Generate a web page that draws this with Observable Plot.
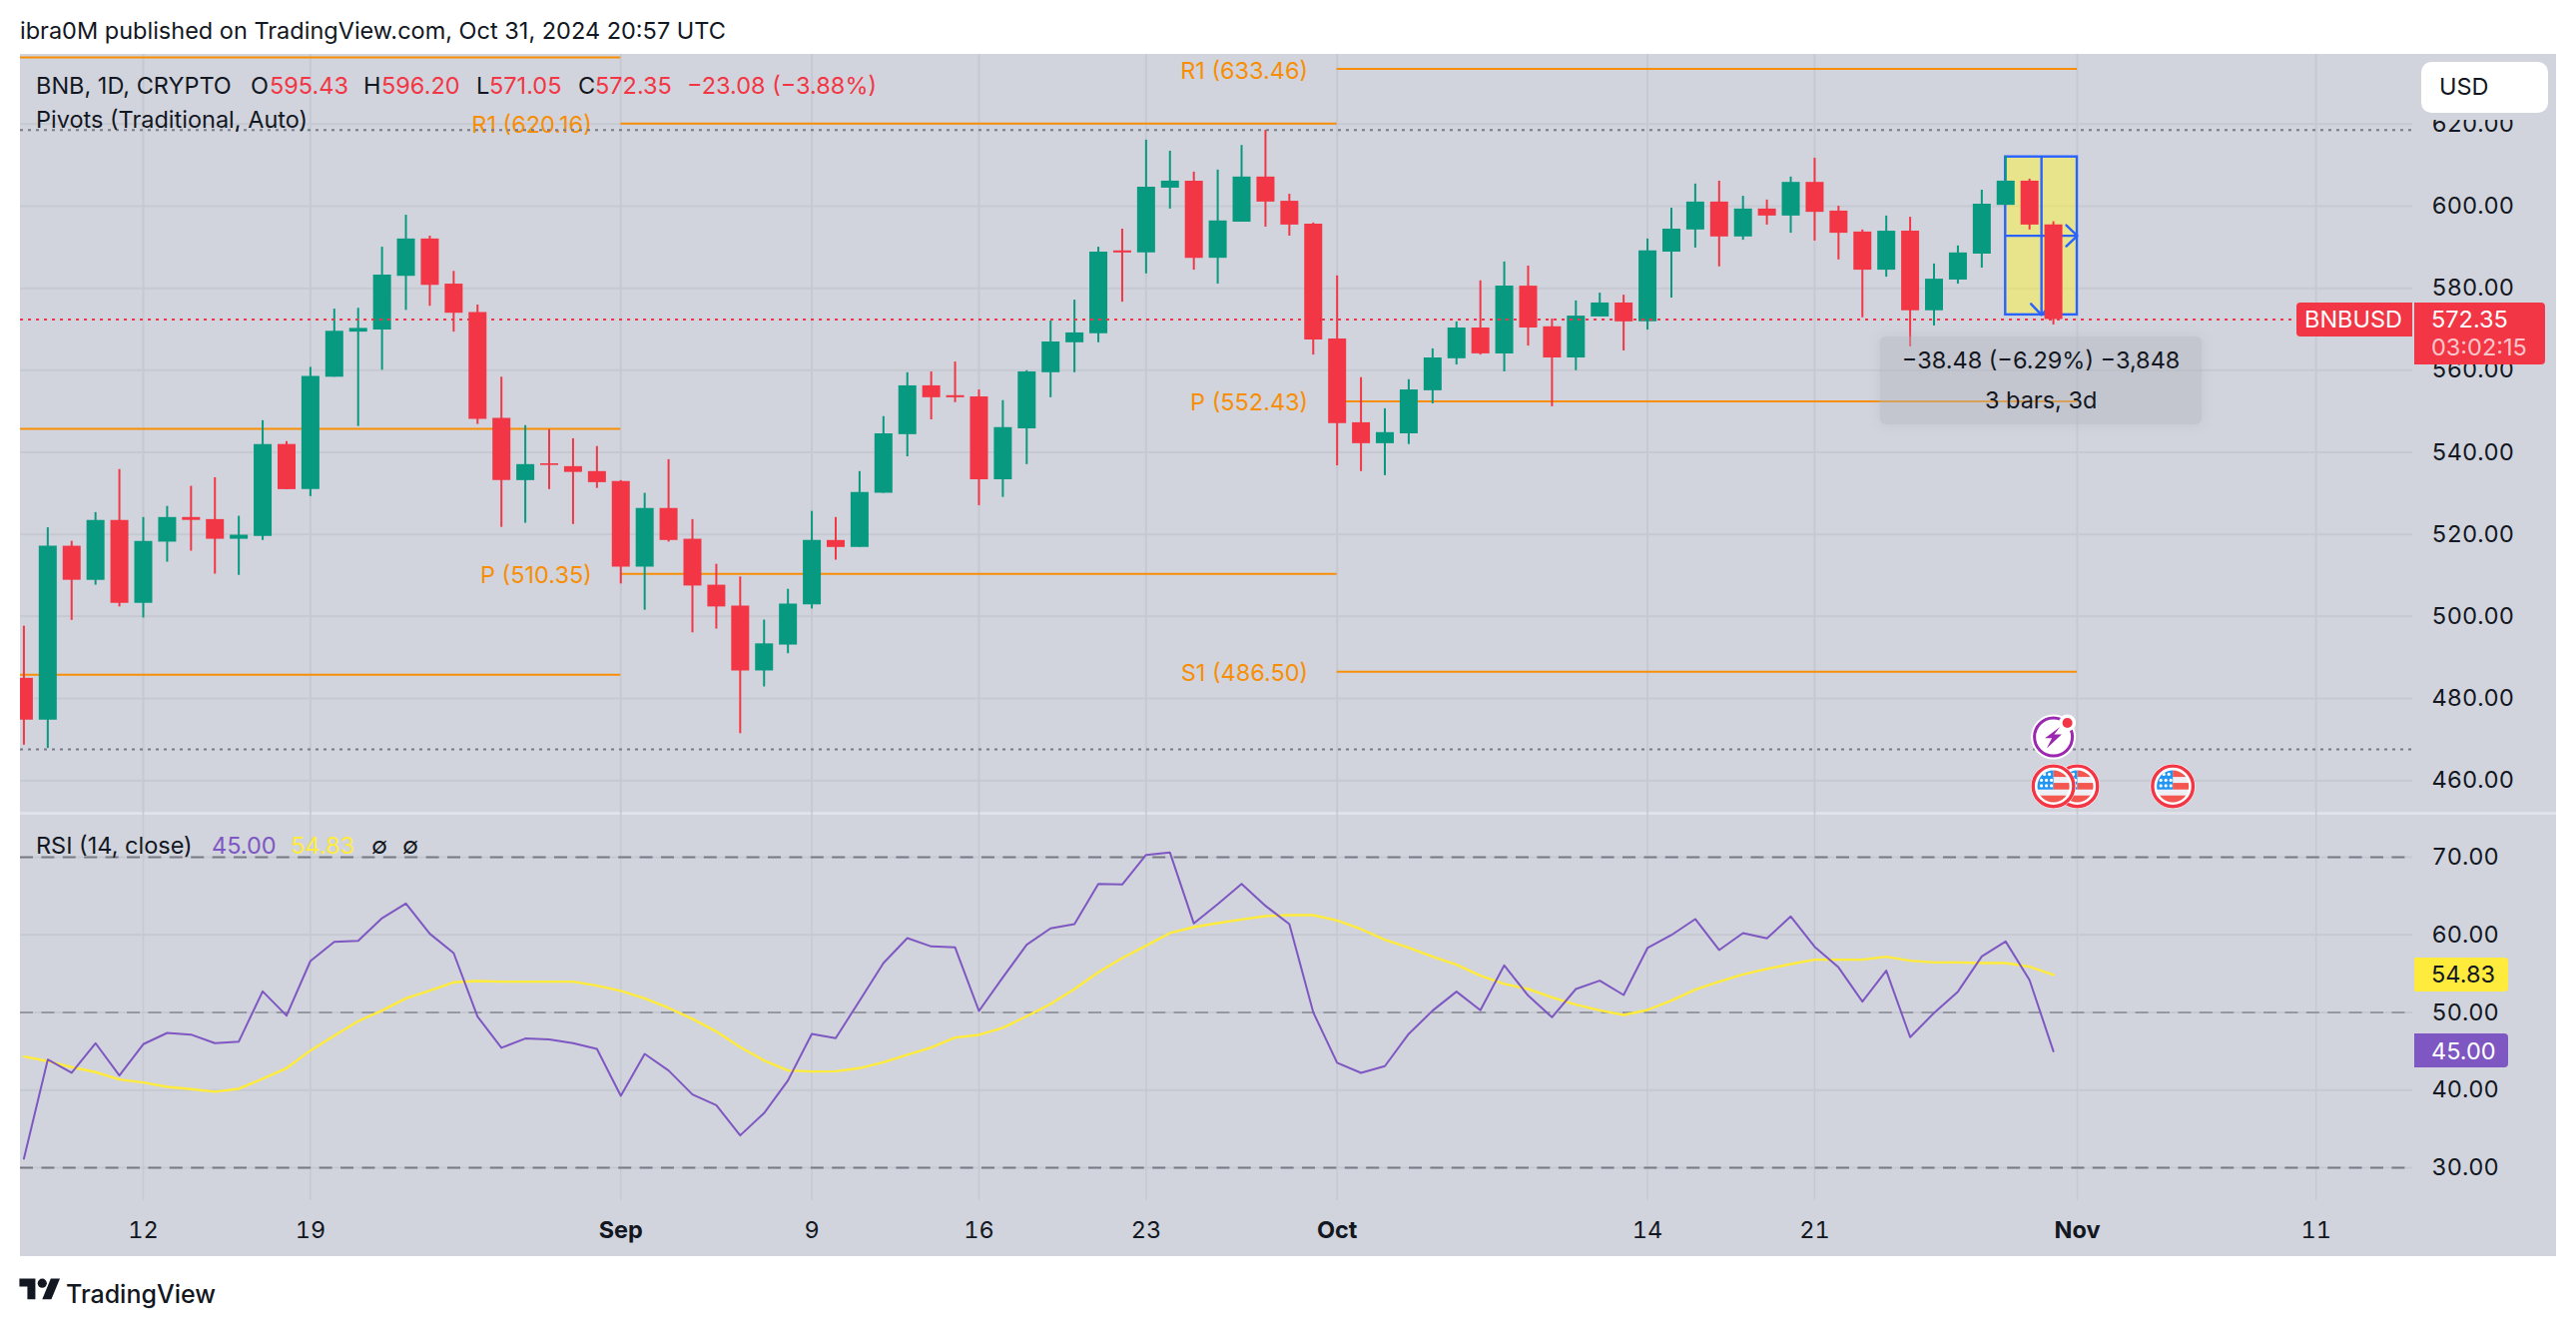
<!DOCTYPE html>
<html>
<head>
<meta charset="utf-8">
<script src="https://cdn.jsdelivr.net/npm/d3@7"></script>
<script src="https://cdn.jsdelivr.net/npm/@observablehq/plot@0.6"></script>
<style>
html,body{margin:0;padding:0;background:#fff}
#page{position:relative;width:2580px;height:1328px;overflow:hidden;background:#fff;font-family:Inter,"Noto Sans",sans-serif;color:#131722}
#panel{position:absolute;left:20px;top:54px;width:2540px;height:1204px;background:#d1d4dc}
#sep{position:absolute;left:20px;top:813px;width:2540px;height:3px;background:#dfe2ea}
.t{position:absolute;white-space:pre;line-height:1;font-size:23.5px}
svg{position:absolute;left:0}
.badge{position:absolute;color:#fff;font-size:24px;line-height:1}
</style>
</head>
<body>
<div id="page">
<div id="panel"></div>
<div id="sep"></div>
</div>
<script>
// ---- OHLC, one bar per day from 7 Aug 2024 to 31 Oct 2024
const firstDay = "2024-08-07";
const opens = [484.9,474.7,517.1,508.8,523.4,503.2,518.1,524.1,523.6,518.8,519.5,541.9,530.9,558.3,569.3,569.8,582.9,592.0,581.0,574.1,548.3,533.1,537.2,536.5,535.3,532.9,512.0,526.3,518.8,507.6,502.5,486.7,493.0,502.8,518.5,516.8,530.0,544.3,556.2,553.8,553.5,533.3,545.7,559.4,566.7,568.9,589.1,588.6,604.4,606.1,587.3,596.1,607.1,601.2,595.6,567.6,547.2,542.1,544.5,555.0,562.8,570.3,564.0,580.5,570.6,563.0,573.0,576.4,571.8,588.8,594.2,601.0,592.5,599.3,597.6,605.8,598.8,593.7,584.4,593.9,574.5,582.0,588.3,600.2,606.1,595.43];
const highs = [497.6,521.6,518.3,525.3,535.8,524.1,526.8,531.7,533.8,524.4,547.7,542.6,560.7,574.9,575.1,590.0,597.8,592.7,584.1,575.9,558.3,546.5,545.5,543.3,541.4,533.1,530.0,538.2,523.6,512.7,509.6,499.1,506.6,525.6,524.1,535.3,548.7,559.4,559.6,562.0,555.2,552.6,559.9,572.0,577.1,590.0,594.4,616.1,613.4,608.3,608.8,614.8,618.5,602.9,595.9,583.0,558.2,550.6,557.7,565.2,571.8,581.8,586.4,585.4,572.5,576.9,578.8,578.3,592.0,599.5,605.4,606.1,602.4,601.5,607.1,611.7,600.0,594.2,597.6,597.3,585.9,590.3,603.9,612.2,606.6,596.20];
const lows = [468.6,467.8,499.0,507.6,502.3,499.6,513.2,515.9,510.3,510.0,518.5,530.9,529.2,558.3,546.3,560.0,574.6,575.6,569.3,546.8,521.7,522.7,530.9,522.4,531.2,507.9,501.5,518.1,496.0,496.9,471.4,482.8,490.9,501.8,513.7,516.8,530.0,538.9,547.9,552.1,527.0,529.0,537.0,553.3,559.4,566.7,576.6,583.5,599.3,584.4,581.0,596.1,594.9,592.7,563.7,536.7,535.3,534.3,541.9,551.8,561.3,563.7,559.6,565.9,551.1,559.9,573.0,564.7,569.8,577.6,589.8,585.2,591.7,595.4,593.4,591.5,586.9,572.8,582.7,565.7,570.8,581.0,584.9,600.2,594.2,571.05];
const closes = [474.7,517.1,508.8,523.4,503.2,518.3,524.1,523.4,518.8,519.8,541.9,530.9,558.5,569.5,570.2,583.2,592.0,580.7,573.9,548.0,533.1,537.0,536.8,535.1,532.6,512.0,526.3,518.5,507.4,502.3,486.7,493.3,503.0,518.5,516.8,530.2,544.5,556.2,553.3,553.3,533.3,546.0,559.6,566.9,569.1,588.8,588.6,604.6,606.1,587.3,596.4,607.1,601.0,595.4,567.4,547.0,542.1,544.8,555.2,563.0,570.3,564.0,580.5,570.3,563.0,573.2,576.4,571.8,589.1,594.4,601.0,592.5,599.3,597.6,605.8,598.5,593.4,584.4,593.9,574.5,582.2,588.6,600.5,606.1,595.4,572.35];
// ---- RSI (14) and its moving average, same days
const rsiValues = [31.16,43.93,42.22,46.04,41.88,45.91,47.36,47.15,46.04,46.25,52.72,49.59,56.62,59.11,59.24,62.15,64.04,60.14,57.65,49.47,45.44,46.64,46.51,46.04,45.31,39.26,44.66,42.52,39.43,38.06,34.16,37.03,41.23,47.24,46.68,51.52,56.37,59.58,58.51,58.38,50.19,54.52,58.73,60.83,61.38,66.57,66.48,70.30,70.60,61.47,63.96,66.57,63.74,61.38,50.02,43.51,42.22,43.08,47.24,50.24,52.68,50.28,56.07,52.17,49.38,53.02,54.10,52.25,58.30,59.97,62.03,58.04,60.23,59.54,62.37,58.47,55.81,51.39,55.38,46.81,49.94,52.68,57.22,59.15,54.18,45.00];
const rsiMa = [44.32,43.72,42.95,42.31,41.36,40.98,40.42,40.12,39.78,40.16,41.45,42.82,45.09,47.02,48.87,50.24,51.82,52.81,53.88,54.05,53.97,53.97,53.97,53.97,53.45,52.77,51.82,50.58,49.17,47.54,45.52,43.81,42.52,42.39,42.43,42.82,43.59,44.54,45.48,46.76,47.11,48.01,49.51,51.09,53.02,55.17,57.01,58.60,60.23,61.00,61.51,61.98,62.41,62.54,62.54,61.85,60.74,59.37,58.34,57.18,56.15,54.74,53.67,53.02,51.95,51.01,50.28,49.68,50.32,51.52,52.94,53.97,54.91,55.60,56.24,56.80,56.80,56.80,57.18,56.67,56.45,56.45,56.37,56.37,55.90,54.83];
// ---- pivots
const pivotStart = ["2024-08-01","2024-08-01","2024-08-01","2024-09-01","2024-09-01","2024-10-01","2024-10-01","2024-10-01"];
const pivotEnd = ["2024-09-01","2024-09-01","2024-09-01","2024-10-01","2024-10-01","2024-11-01","2024-11-01","2024-11-01"];
const pivotPrice = [636.3,545.7,485.8,620.16,510.35,633.46,552.43,486.50];
const pivotLabel = ["","","","R1 (620.16)","P (510.35)","R1 (633.46)","P (552.43)","S1 (486.50)"];
// ---- axes
const priceTicks = [460,480,500,520,540,560,580,600,620];
const rsiTicks = [30,40,50,60,70];
const rsiGuides = [70,30];
const timeTicks = ["2024-08-12","2024-08-19","2024-09-09","2024-09-16","2024-09-23","2024-10-14","2024-10-21","2024-11-11"];
const timeLabels = ["12","19","9","16","23","14","21","11"];
const monthTicks = ["2024-09-01","2024-10-01","2024-11-01"];
const monthLabels = ["Sep","Oct","Nov"];
const rangeHigh = 618.57, rangeLow = 467.6;
// ---- measuring tool
const measureDays = ["2024-10-29","2024-11-01"];
const measurePrices = [612.0,573.5];
const measureMid = {day:"2024-10-30T12:00Z", price:592.8};
// ---- events
const flagDays = ["2024-11-01","2024-11-05","2024-10-31"];
const boltDays = ["2024-10-31"];
const flagPrice = 458.6, boltPrice = 470.6;

const GREEN="#089981", RED="#f23645", ORANGE="#f88e06", GRID="#c6c9d1", GREY="#787b86", INK="#131722", BLUE="#2962ff";
const d = s => new Date(s.length===10 ? s+"T00:00:00Z" : s);
const days = d3.utcDay.range(d(firstDay), d3.utcDay.offset(d(firstDay), opens.length));
const bars = days.map((date,i)=>({date,open:opens[i],high:highs[i],low:lows[i],close:closes[i],rsi:rsiValues[i],ma:rsiMa[i]}));
const pivots = pivotPrice.map((price,i)=>({start:d(pivotStart[i]),end:d(pivotEnd[i]),price,label:pivotLabel[i]}));
const xDomain = [new Date("2024-08-06T20:34:00Z"), new Date("2024-11-15T01:12:00Z")];
const tickMap = new Map([...timeTicks.map((t,i)=>[+d(t),timeLabels[i]]), ...monthTicks.map((t,i)=>[+d(t),monthLabels[i]])]);
const allTicks = [...timeTicks,...monthTicks].map(d);
const fmt = t => tickMap.get(+t);
const barColor = b => b.close>=b.open ? GREEN : RED;
const FONT = "Inter, 'Noto Sans', sans-serif";

const svgURI = s => "data:image/svg+xml,"+encodeURIComponent(s);
const flagIcon = svgURI(`<svg xmlns="http://www.w3.org/2000/svg" viewBox="-24 -24 48 48"><defs><clipPath id="c"><circle r="16"/></clipPath></defs>
<circle r="22.5" fill="#fff"/><circle r="20.3" fill="none" stroke="#f23645" stroke-width="3.4"/>
<g clip-path="url(#c)"><rect x="-17" y="-17" width="34" height="34" fill="#eef0f6"/>
<rect x="0" y="-17" width="17" height="7.7" fill="#f4574f"/><rect x="0" y="-3.3" width="17" height="6.6" fill="#f4574f"/><rect x="-17" y="9.3" width="34" height="8" fill="#f4574f"/>
<rect x="-17" y="-17" width="17" height="20.3" fill="#2196f3"/>
<g fill="#fff"><circle cx="-9" cy="-12" r="1.6"/><circle cx="-4" cy="-12" r="1.6"/><circle cx="-12" cy="-6" r="1.6"/><circle cx="-7" cy="-6" r="1.6"/><circle cx="-2" cy="-6" r="1.6"/><circle cx="-12" cy="-.5" r="1.6"/><circle cx="-7" cy="-.5" r="1.6"/><circle cx="-2" cy="-.5" r="1.6"/></g></g></svg>`);
const boltIcon = svgURI(`<svg xmlns="http://www.w3.org/2000/svg" viewBox="-24 -24 48 48">
<circle r="22.5" fill="#fff"/><circle r="19" fill="none" stroke="#9c27b0" stroke-width="3"/>
<path d="M6.7-10L-8.5 1.2h7L-6.7 11.5 8.3-2.6H.8z" fill="#9c27b0"/>
<circle cx="14" cy="-14" r="8.5" fill="#fff"/><circle cx="14" cy="-14" r="5" fill="#f23645"/></svg>`);
const chevron = {draw(c){c.moveTo(-10.5,11);c.lineTo(0,0);c.lineTo(10.5,11);}};

const priceChart = Plot.plot({
  width:2580,height:760,marginLeft:20,marginRight:164,marginTop:0,marginBottom:0,
  style:{background:"transparent",fontFamily:FONT,fontSize:"23.5px",overflow:"visible",top:"54px"},
  x:{type:"utc",domain:xDomain,axis:null},
  y:{domain:[452,637]},
  color:{type:"identity"},
  marks:[
    Plot.gridY({ticks:priceTicks,stroke:GRID,strokeOpacity:1,strokeWidth:2}),
    Plot.gridX({ticks:allTicks,stroke:GRID,strokeOpacity:1,strokeWidth:2}),
    Plot.axisY({anchor:"right",ticks:priceTicks,tickFormat:d3.format(".2f"),tickSize:0,tickPadding:19,label:null,fill:INK}),
    Plot.ruleY(pivots,{x1:"start",x2:"end",y:"price",stroke:ORANGE,strokeWidth:2,clip:true}),
    Plot.text(pivots.filter(p=>p.label),{x:"start",y:"price",text:"label",fill:ORANGE,textAnchor:"end",dx:-29,dy:2,fontSize:23.5}),
    Plot.rect([{}],{x1:()=>d(measureDays[0]),x2:()=>d(measureDays[1]),y1:()=>measurePrices[0],y2:()=>measurePrices[1],fill:"#fff43b",fillOpacity:0.5,stroke:BLUE,strokeWidth:2.4}),
    Plot.ruleX([measureMid],{x:t=>d(t.day),y1:()=>measurePrices[0],y2:()=>measurePrices[1],stroke:BLUE,strokeWidth:2.4}),
    Plot.ruleY([measureMid],{y:"price",x1:()=>d(measureDays[0]),x2:()=>d(measureDays[1]),stroke:BLUE,strokeWidth:2.4}),
    Plot.vector([measureMid],{x:()=>d(measureDays[1]),y:"price",rotate:90,length:20,anchor:"start",shape:chevron,stroke:BLUE,strokeWidth:2.4,strokeOpacity:1}),
    Plot.vector([measureMid],{x:t=>d(t.day),y:()=>measurePrices[1],rotate:180,length:20,anchor:"start",shape:chevron,stroke:BLUE,strokeWidth:2.4,strokeOpacity:1}),
    Plot.ruleX(bars,{x:"date",y1:"low",y2:"high",stroke:barColor,strokeWidth:2,clip:true}),
    Plot.ruleX(bars,{x:"date",y1:"open",y2:"close",stroke:barColor,strokeWidth:18,clip:true}),
    Plot.ruleY([rangeHigh,rangeLow],{stroke:GREY,strokeWidth:2,strokeDasharray:"3 5"}),
    Plot.ruleY([closes[closes.length-1]],{stroke:RED,strokeWidth:2,strokeDasharray:"3 5"}),
    Plot.image(flagDays,{x:d,y:()=>flagPrice,src:()=>flagIcon,width:48,height:48}),
    Plot.image(boltDays,{x:d,y:()=>boltPrice,src:()=>boltIcon,width:48,height:48})
  ]
});

const rsiChart = Plot.plot({
  width:2580,height:444,marginLeft:20,marginRight:164,marginTop:0,marginBottom:56,
  style:{background:"transparent",fontFamily:FONT,fontSize:"23.5px",overflow:"visible",top:"814px"},
  x:{type:"utc",domain:xDomain},
  y:{domain:[25.75,75.66]},
  marks:[
    Plot.gridY({ticks:rsiTicks,stroke:GRID,strokeOpacity:1,strokeWidth:2}),
    Plot.gridX({ticks:allTicks,stroke:GRID,strokeOpacity:1,strokeWidth:1.5}),
    Plot.axisY({anchor:"right",ticks:rsiTicks,tickFormat:d3.format(".2f"),tickSize:0,tickPadding:19,label:null,fill:INK}),
    Plot.axisX({ticks:timeTicks.map(d),tickFormat:fmt,tickSize:0,tickPadding:21,label:null,fill:INK}),
    Plot.axisX({ticks:monthTicks.map(d),tickFormat:fmt,tickSize:0,tickPadding:21,label:null,fill:INK,fontWeight:700}),
    Plot.ruleY(rsiGuides,{stroke:GREY,strokeWidth:2,strokeDasharray:"13 8.4"}),
    Plot.ruleY([50],{stroke:"#9598a1",strokeWidth:2,strokeDasharray:"13 8.4"}),
    Plot.line(bars,{x:"date",y:"ma",stroke:"#ffeb3b",strokeWidth:2.4,curve:"linear"}),
    Plot.line(bars,{x:"date",y:"rsi",stroke:"#7e57c2",strokeWidth:2,curve:"linear"})
  ]
});

const page = document.getElementById("page");
page.append(priceChart, rsiChart);
const yP = priceChart.scale("y"), yR = rsiChart.scale("y"), xS = priceChart.scale("x");

function put(text,left,cy,opts={}){
  const e=document.createElement("div");e.className="t";e.textContent=text;
  e.style.left=left+"px";
  const fs=opts.size||23.5;e.style.fontSize=fs+"px";e.style.top=(cy-fs/2)+"px";
  if(opts.color)e.style.color=opts.color;
  if(opts.weight)e.style.fontWeight=opts.weight;
  if(opts.center){e.style.transform="translateX(-50%)";}
  page.append(e);return e;
}
function box(left,top,w,h,bg,radius){
  const e=document.createElement("div");e.style.cssText=`position:absolute;left:${left}px;top:${top}px;width:${w}px;height:${h}px;background:${bg};border-radius:${radius||"0"}`;
  page.append(e);return e;
}

// header
put("ibra0M published on TradingView.com, Oct 31, 2024 20:57 UTC",20,31);
// legend
put("BNB, 1D, CRYPTO",36,86);
[["O",251,INK],["595.43",270,RED],["H",364,INK],["596.20",382,RED],["L",477,INK],["571.05",490,RED],["C",579,INK],["572.35",596,RED],["\u221223.08 (\u22123.88%)",688,RED]]
  .forEach(([s,x,c])=>put(s,x,86,{color:c}));
put("Pivots (Traditional, Auto)",36,120);
put("RSI (14, close)",36,847);
put("45.00",212,847,{color:"#7e57c2"});
put("54.83",291,847,{color:"#ffeb3b"});
put("\u2205",372,847);
put("\u2205",403,847);

// USD button
const usdMask = box(2425,62,127,58,"#d1d4dc","0");
const usd = box(2425,62,127,51,"#fff","10px");
put("USD",2443,87,{size:23.5});

// last price labels
const yLast = 54+yP.apply(closes[closes.length-1]);
box(2300,yLast-17,116,34,RED,"4px 0 0 4px");
put("BNBUSD",2308,yLast,{color:"#fff"});
box(2418,yLast-17,131,62,RED,"0 4px 4px 0");
put("572.35",2435,yLast,{color:"#fff"});
put("03:02:15",2435,yLast+28,{color:"rgba(255,255,255,.72)"});

// RSI last-value labels
const yMa = 814+yR.apply(rsiMa[rsiMa.length-1]);
const yRsi = 814+yR.apply(rsiValues[rsiValues.length-1]);
box(2418,yMa-17,94,34,"#ffeb3b","0 4px 4px 0");
put("54.83",2435,yMa,{color:INK});
box(2418,yRsi-17,94,34,"#7e57c2","0 4px 4px 0");
put("45.00",2435,yRsi,{color:"#fff"});

// measure info box
const cx = xS.apply(d(measureMid.day));
const mb = box(cx-161,337,322,88,"rgba(178,181,191,.45)","6px");
mb.style.boxShadow="0 0 12px rgba(178,181,191,.4)";
put("\u221238.48 (\u22126.29%) \u22123,848",cx,361,{center:true});
put("3 bars, 3d",cx,401,{center:true});

// footer logo
const logo = document.createElementNS("http://www.w3.org/2000/svg","svg");
logo.setAttribute("viewBox","0 0 36 28");
logo.setAttribute("width","42");logo.setAttribute("height","32");
logo.style.cssText="position:absolute;left:19px;top:1276px";
logo.innerHTML='<path d="M14 22H7V11H0V4h14v18zM28 22h-8l7.5-18h8L28 22z" fill="#131722"/><circle cx="20" cy="8" r="4" fill="#131722"/>';
page.append(logo);
put("TradingView",66,1296,{size:25,weight:500});
</script>
</body>
</html>
